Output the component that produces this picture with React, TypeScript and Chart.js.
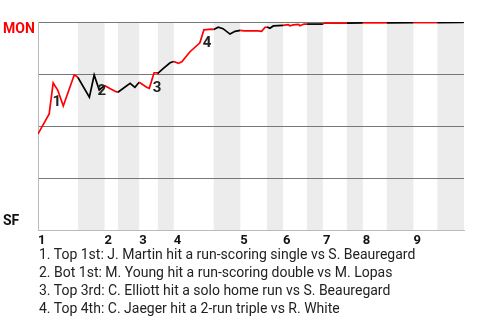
import React, { useEffect, useRef } from "react";
import { Chart, registerables } from "chart.js";

Chart.register(...registerables);

// Innings (x positions in play units)
const inningLabels = ["1", "2", "3", "4", "5", "6", "7", "8", "9"];
const inningStarts = [0, 25, 38, 51, 76, 92, 107, 122, 141];
const bottomStarts = [15, 30, 45, 66, 86, 101, 116, 131, 150];
const gameEnd = 160;

// Win probability for MON (1 = MON wins)
const playX = [
  0, 4.2, 5.7, 7.4, 9.5, 13.6, 14.6, 15,
  19.3, 21.1, 23.0, 25,
  27.0, 29.3, 30,
  34.6, 36.4, 38,
  40.8, 41.8, 43.6, 44.7, 45,
  47.1, 49.6, 51,
  52.7, 54.0, 57.1, 60.8, 62.3, 65.2, 66,
  67.7, 69.5, 72.1, 74.0, 76,
  77.4, 82.6, 84.0, 85.3, 86,
  87.1, 88.4, 92,
  94.0, 94.6, 95.9, 97.8, 98.4, 99.9, 101,
  107, 107.5, 116, 122, 131, 141, 150, 159.5, 160,
];
const monWinProb = [
  0.462, 0.558, 0.707, 0.673, 0.596, 0.745, 0.738, 0.733,
  0.639, 0.745, 0.673, 0.695,
  0.68, 0.665, 0.662,
  0.705, 0.686, 0.71,
  0.686, 0.681, 0.756, 0.756, 0.753,
  0.777, 0.804, 0.81,
  0.801, 0.809, 0.857, 0.9, 0.962, 0.966, 0.964,
  0.975, 0.968, 0.942, 0.955, 0.96,
  0.957, 0.957, 0.955, 0.975, 0.976,
  0.97, 0.981, 0.984,
  0.987, 0.982, 0.986, 0.989, 0.982, 0.99, 0.99,
  0.99, 0.995, 0.995, 0.996, 0.996, 0.997, 0.997, 0.998, 1.0,
];

// Y axis
const gridValues = [0, 0.25, 0.5, 0.75, 1];
const teamLabels = ["SF", "MON"];
const teamLabelValues = [0.04, 0.962];

// Event markers
const markerLabels = ["1", "2", "3", "4"];
const markerX = [7.1, 24.0, 44.7, 63.5];
const markerY = [0.612, 0.668, 0.683, 0.899];

const eventNotes = [
  "1. Top 1st: J. Martin hit a run-scoring single vs S. Beauregard",
  "2. Bot 1st: M. Young hit a run-scoring double vs M. Lopas",
  "3. Top 3rd: C. Elliott hit a solo home run vs S. Beauregard",
  "4. Top 4th: C. Jaeger hit a 2-run triple vs R. White",
];

const RED = "#ff0000";
const DARK = "#111111";
const FONT = "Roboto";

const halfEnd = (i: number) => (i + 1 < inningStarts.length ? inningStarts[i + 1] : gameEnd);
const isBottomHalf = (x: number) =>
  bottomStarts.some((s, i) => x >= s && x < halfEnd(i));

const bandsPlugin = {
  id: "bands",
  beforeDraw(chart: any) {
    const { ctx, chartArea, scales } = chart;
    const xs = scales.x;
    ctx.save();
    ctx.fillStyle = "#ececec";
    bottomStarts.forEach((s, i) => {
      const x0 = xs.getPixelForValue(s);
      const x1 = xs.getPixelForValue(halfEnd(i));
      ctx.fillRect(x0, chartArea.top, x1 - x0, chartArea.bottom - chartArea.top);
    });
    ctx.restore();
  },
};

const markersPlugin = {
  id: "markers",
  afterDatasetsDraw(chart: any) {
    const { ctx, scales } = chart;
    ctx.save();
    ctx.font = `bold 15px ${FONT}`;
    ctx.fillStyle = "#222222";
    ctx.textAlign = "center";
    ctx.textBaseline = "middle";
    markerLabels.forEach((t, i) => {
      ctx.fillText(t, scales.x.getPixelForValue(markerX[i]), scales.y.getPixelForValue(markerY[i]));
    });
    ctx.restore();
  },
};

export default function App() {
  const ref = useRef<HTMLCanvasElement | null>(null);

  useEffect(() => {
    if (!ref.current) return;
    const chart = new Chart(ref.current, {
      type: "line",
      data: {
        datasets: [
          {
            data: playX.map((x, i) => ({ x, y: monWinProb[i] })),
            borderColor: RED,
            borderWidth: 1.7,
            pointRadius: 0,
            tension: 0,
            fill: false,
            segment: {
              borderColor: (c: any) =>
                isBottomHalf((c.p0.parsed.x + c.p1.parsed.x) / 2) ? "#000000" : RED,
            },
          },
        ],
      },
      options: {
        animation: false,
        responsive: false,
        layout: { padding: { left: 3, right: 16, top: 22, bottom: 0 } },
        plugins: { legend: { display: false }, tooltip: { enabled: false } },
        scales: {
          x: {
            type: "linear",
            min: 0,
            max: gameEnd,
            grid: { display: false },
            border: { display: true, color: "#bbbbbb" },
            afterBuildTicks: (s: any) => {
              s.ticks = inningStarts.map((v) => ({ value: v }));
            },
            afterFit: (s: any) => {
              s.height = 90;
            },
            ticks: {
              autoSkip: false,
              maxRotation: 0,
              align: "start",
              padding: -5,
              color: DARK,
              font: { family: FONT, size: 13, weight: "bold" },
              callback: (_v: any, i: number) => inningLabels[i],
            },
          },
          y: {
            type: "linear",
            min: 0,
            max: 1,
            afterBuildTicks: (s: any) => {
              s.ticks = [...gridValues, ...teamLabelValues]
                .sort((a, b) => a - b)
                .map((v) => ({ value: v }));
            },
            afterFit: (s: any) => {
              s.width = 35;
            },
            grid: {
              drawTicks: false,
              lineWidth: 1,
              color: (c: any) =>
                c.tick && gridValues.includes(c.tick.value) && c.tick.value !== 0
                  ? "#777777"
                  : "rgba(0,0,0,0)",
            },
            border: { display: true, color: "#bbbbbb" },
            ticks: {
              autoSkip: false,
              crossAlign: "far",
              padding: 0,
              font: { family: FONT, size: 14, weight: "bold" },
              color: (c: any) => (c.tick && c.tick.value === teamLabelValues[1] ? RED : DARK),
              callback: (v: any) => {
                const k = teamLabelValues.indexOf(v);
                return k >= 0 ? teamLabels[k] : "";
              },
            },
          },
        },
      },
      plugins: [bandsPlugin, markersPlugin],
    });
    return () => chart.destroy();
  }, []);

  return (
    <div style={{ position: "absolute", left: 0, top: 0, width: 480, height: 320, background: "#fff" }}>
      <canvas ref={ref} width={480} height={320} style={{ display: "block" }} />
      <div
        style={{
          position: "absolute",
          left: 39,
          top: 245,
          fontFamily: FONT,
          fontSize: 14,
          lineHeight: "18px",
          color: "#222222",
          whiteSpace: "nowrap",
        }}
      >
        {eventNotes.map((n) => (
          <div key={n}>{n}</div>
        ))}
      </div>
    </div>
  );
}
